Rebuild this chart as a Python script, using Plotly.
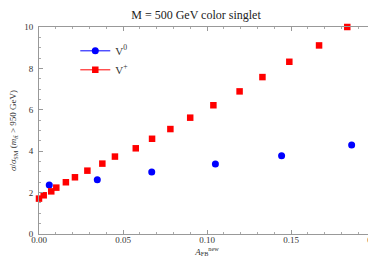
import plotly.graph_objects as go

# Data
v0_x = [0.0061, 0.0347, 0.0671, 0.105, 0.1444, 0.1861]
v0_y = [2.37, 2.62, 2.99, 3.38, 3.78, 4.30]

vp_x = [0.0, 0.0028, 0.0073, 0.0103, 0.016, 0.0214, 0.0288, 0.0377, 0.0452,
        0.0576, 0.0673, 0.0782, 0.090, 0.1038, 0.1194, 0.133, 0.149, 0.1667, 0.1835]
vp_y = [1.71, 1.87, 2.06, 2.24, 2.50, 2.74, 3.06, 3.40, 3.74,
        4.14, 4.60, 5.07, 5.62, 6.22, 6.89, 7.58, 8.32, 9.11, 10.0]

x_ticks = [0.0, 0.05, 0.10, 0.15, 0.20]
x_tick_labels = ["0.00", "0.05", "0.10", "0.15", "0.20"]
y_ticks = [0, 2, 4, 6, 8, 10]
y_tick_labels = ["0", "2", "4", "6", "8", "10"]

SERIF = "Liberation Serif, Times New Roman, serif"
BLUE = "#0000ff"
RED = "#ff0000"

fig = go.Figure()
fig.add_trace(go.Scatter(x=v0_x, y=v0_y, mode="markers", showlegend=False,
                         marker=dict(symbol="circle", size=7, color=BLUE), cliponaxis=False))
fig.add_trace(go.Scatter(x=vp_x, y=vp_y, mode="markers", showlegend=False,
                         marker=dict(symbol="square", size=6.5, color=RED), cliponaxis=False))
# legend entries (line + marker)
fig.add_trace(go.Scatter(x=[None], y=[None], mode="lines+markers", name="V<sup>0</sup>",
                         marker=dict(symbol="circle", size=7, color=BLUE),
                         line=dict(color=BLUE, width=1)))
fig.add_trace(go.Scatter(x=[None], y=[None], mode="lines+markers", name="V<sup>+</sup>",
                         marker=dict(symbol="square", size=6.5, color=RED),
                         line=dict(color=RED, width=1)))

axis_common = dict(
    showgrid=False, zeroline=False, showline=True, linecolor="#999999", linewidth=1,
    mirror="allticks", ticks="inside", tickcolor="#999999", ticklen=4, tickwidth=1,
    tickfont=dict(family=SERIF, size=9, color="#333333"),
    minor=dict(ticks="inside", ticklen=2, tickcolor="#aaaaaa", tickwidth=1),
    automargin=False,
)

fig.update_layout(
    width=376, height=259,
    margin=dict(l=31, r=9, t=19, b=33),
    paper_bgcolor="white", plot_bgcolor="white",
    title=dict(text="M = 500 GeV color singlet", x=0.5, xanchor="center",
               y=1 - 3 / 259, yanchor="top",
               font=dict(family=SERIF, size=12, color="#222222"), automargin=False),
    legend=dict(x=0.108, y=0.955, xanchor="left", yanchor="top",
                bgcolor="rgba(0,0,0,0)", font=dict(family=SERIF, size=11, color="#333333"),
                itemwidth=30, tracegroupgap=3),
    xaxis=dict(range=[0, 0.20], tickvals=x_ticks, ticktext=x_tick_labels,
               minor_dtick=0.01, ticklabelstandoff=-3,
               title=dict(text="<i>A</i><sub>FB</sub><sup>new</sup>",
                          font=dict(family=SERIF, size=9, color="#333333"), standoff=0),
               **axis_common),
    yaxis=dict(range=[0, 10], tickvals=y_ticks, ticktext=y_tick_labels,
               minor_dtick=0.5, ticklabelstandoff=3,
               title=dict(text="<i>σ</i>/<i>σ</i><sub>SM</sub> (<i>m</i><sub><i>t</i>t̄</sub> > 950 GeV)",
                          font=dict(family=SERIF, size=9, color="#333333"), standoff=6),
               **axis_common),
)

fig.write_html("out.html")
